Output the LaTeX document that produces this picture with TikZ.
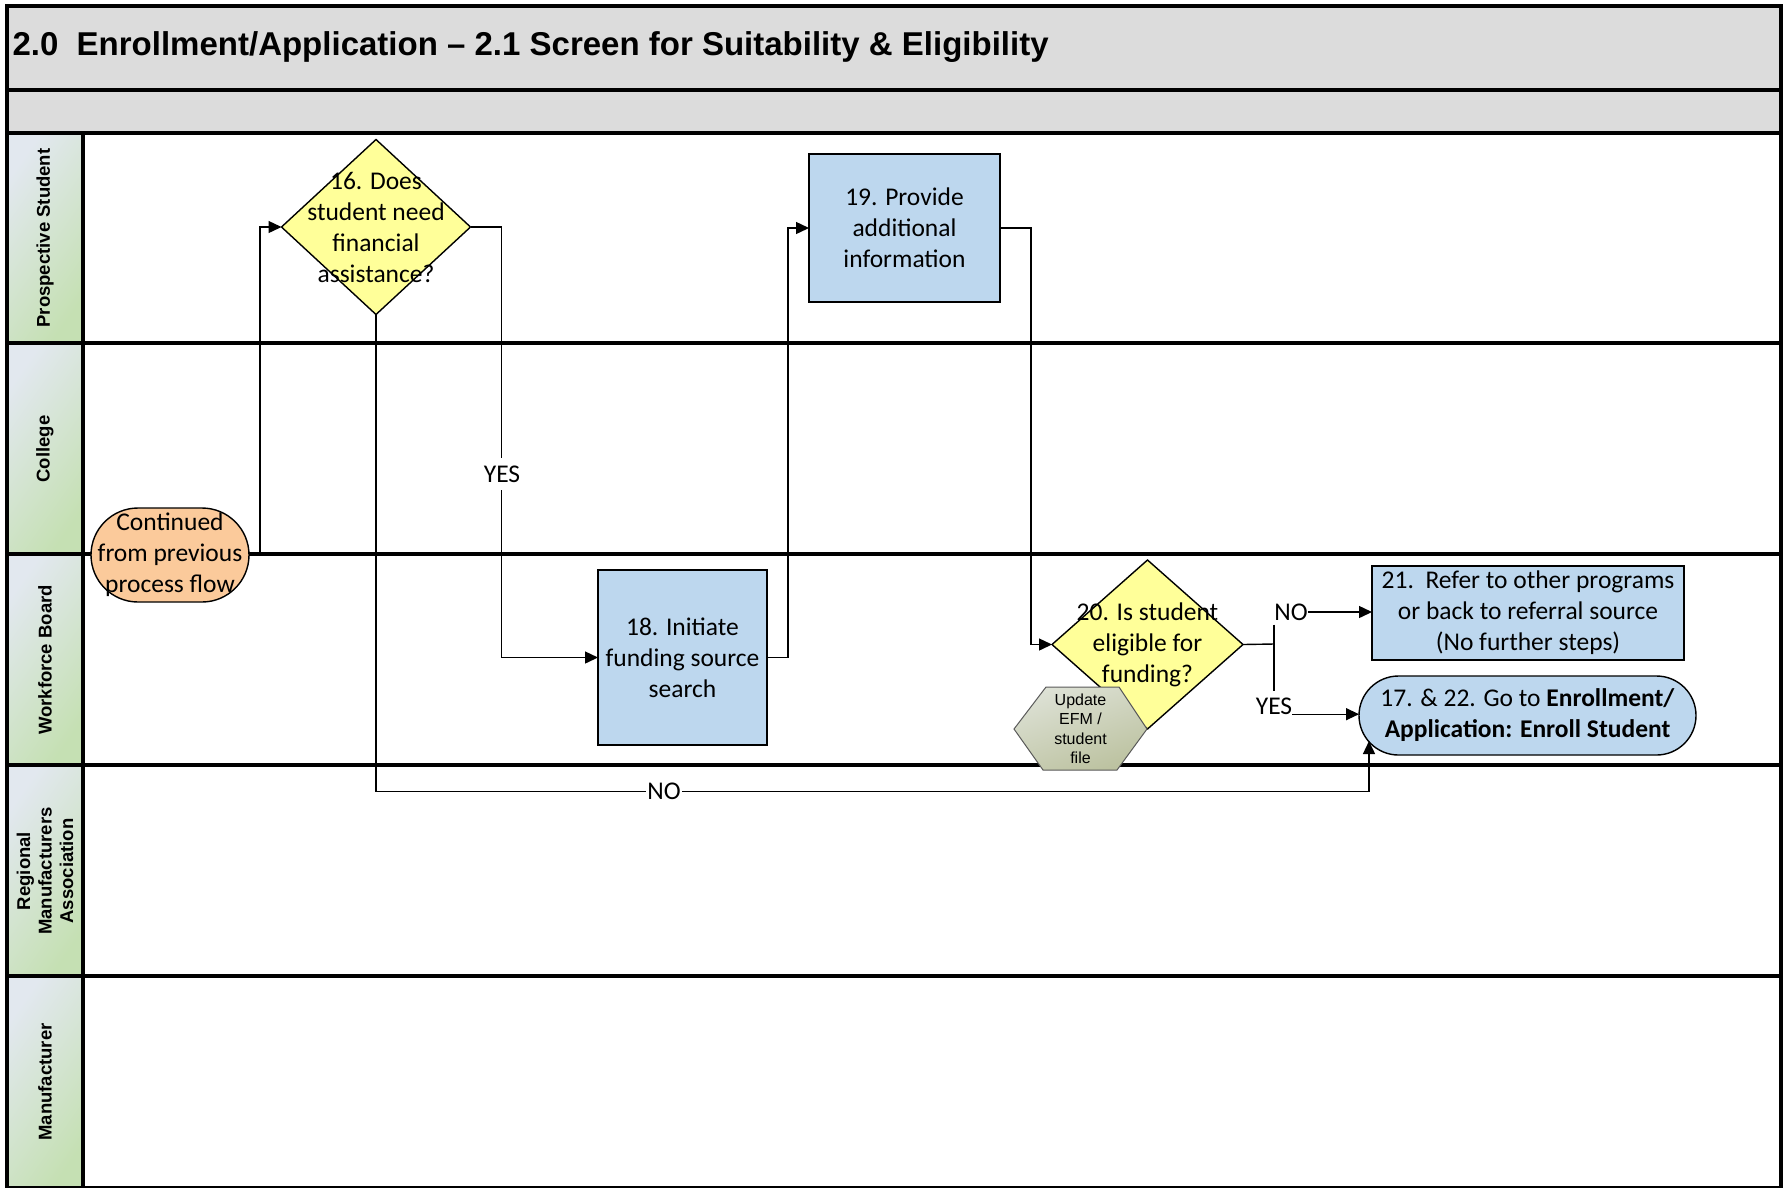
\documentclass[tikz,border=0pt]{standalone}
\usepackage{fontspec}
\setmainfont{Carlito}
\newfontfamily\arial{Liberation Sans}
\usetikzlibrary{arrows.meta,shapes.geometric,calc}
\definecolor{diaY}{HTML}{FFFF99}
\definecolor{boxB}{HTML}{BDD7EE}
\definecolor{ovalO}{HTML}{FBCA9B}
\definecolor{laneG}{HTML}{C5E0B3}
\definecolor{laneW}{HTML}{E2E8EF}
\definecolor{bandG}{HTML}{DCDCDC}
\definecolor{hexA}{HTML}{DDE1D5}
\definecolor{hexB}{HTML}{BCC2A0}
\begin{document}
\begin{tikzpicture}[x=1pt,y=-1pt,
  lanel/.style={line width=4.5pt},
  seg/.style={line width=1.4pt},
  conn/.style={line width=1.4pt,-{Triangle[length=13pt,width=12pt]}},
  bodyt/.style={font=\fontsize{25.5}{31}\selectfont,align=center},
  lanetxt/.style={rotate=90,font=\arial\bfseries\fontsize{18.5}{21.5}\selectfont,align=center},
  lanesh/.style={top color=laneW,middle color=laneG!85!laneW,bottom color=laneG,shading angle=55},
  diam/.style={diamond,draw,line width=1.4pt,fill=diaY,inner sep=0pt,outer sep=0pt},
  procbox/.style={rectangle,draw,line width=1.4pt,fill=boxB,inner sep=0pt,outer sep=0pt,bodyt},
  lbl/.style={bodyt,fill=white,inner xsep=1pt,inner ysep=8pt}]
\useasboundingbox (0,0) rectangle (1785,1187);
% bands
\fill[bandG] (7,6) rectangle (1781,90);
\fill[bandG] (7,90) rectangle (1781,133);
\node[anchor=west,font=\arial\bfseries\fontsize{33}{40}\selectfont] (title) at (9,47)
  {2.0~~Enrollment/Application – 2.1 Screen for Suitability \& Eligibility};
% lane headers
\foreach \t/\b in {133/343,343/554,554/765,765/976,976/1190}
  \shade[lanesh] (9,\t) rectangle (82,\b);
\node[lanetxt] (l1) at (45,238) {Prospective Student};
\node[lanetxt] (l2) at (45,449) {College};
\node[lanetxt] (l3) at (45,660) {Workforce Board};
\node[lanetxt] (l4) at (45,871) {Regional\\Manufacturers\\Association};
\node[lanetxt] (l5) at (45,1082) {Manufacturer};
% lane lines
\foreach \yy in {90,133,343,554,765,976}
  \draw[lanel] (7,\yy) -- (1781,\yy);
\draw[lanel] (83,133) -- (83,1190);
\draw[lanel] (7,6) rectangle (1781,1188.5);
% shapes
\node[draw,fill=ovalO,line width=1.4pt,rounded corners=47pt,minimum width=158pt,minimum height=94pt,inner sep=0pt,outer sep=0pt,bodyt]
  (cont) at (170,555) {Continued\\from previous\\process flow};
\node[diam,minimum width=189pt,minimum height=175pt] (d16) at (376,227) {};
\node[bodyt] (d16t) at (d16) {16. Does\\student need\\financial\\assistance?};
\node[procbox,minimum width=169pt,minimum height=175pt] (b18) at (682.5,657.5) {18. Initiate\\funding source\\search};
\node[procbox,minimum width=191pt,minimum height=148pt] (b19) at (904.5,228) {19. Provide\\additional\\information};
\node[diam,minimum width=191pt,minimum height=169pt] (d20) at (1147.5,644.5) {};
\node[bodyt] (d20t) at (d20) {20. Is student\\eligible for\\funding?};
\node[procbox,minimum width=312pt,minimum height=94pt] (b21) at (1528,613) {21.\ \ Refer to other programs\\or back to referral source\\(No further steps)};
\node[draw,fill=boxB,line width=1.4pt,rounded corners=39.5pt,minimum width=337pt,minimum height=79pt,inner sep=0pt,outer sep=0pt,bodyt]
  (term) at (1527.5,715.5) {17. \& 22. Go to \textbf{Enrollment/}\\\textbf{Application: Enroll Student}};
% hexagon
\shade[top color=hexA,bottom color=hexB,shading angle=20,draw=black!65,line width=1pt]
  (1014,729) -- (1046,687) -- (1119,687) -- (1147,729) -- (1117,770) -- (1043,770) -- cycle;
\node[font=\arial\fontsize{16}{19.5}\selectfont,align=center] (hex) at (1080.5,729) {Update\\EFM /\\student\\file};
% connectors
\draw[conn] (cont.east) -- ++(11,0) |- (d16.west);
\draw[conn] (d16.east) -- ++(31,0) |- (b18.west);
\node[lbl] (yes1) at (502,474) {YES};
\draw[conn] (b18.east) -- ++(21,0) |- (b19.west);
\draw[conn] (b19.east) -- ++(31,0) |- (d20.west);
\coordinate (noend) at (1369,741);
\draw[conn] (d16.south) -- ++(0,477) -| (noend);
\node[lbl,inner ysep=4pt] (no1) at (664,791) {NO};
\coordinate (j) at (1274,644);
\draw[seg] (d20.east) -- (j);
\node[bodyt,inner sep=0pt] (no2) at (1291,612) {NO};
\node[bodyt,inner sep=0pt] (yes2) at (1274,706) {YES};
\draw[seg] ($(j |- no2.south)+(0,4)$) -- ($(j |- yes2.north)+(0,-6)$);
\draw[conn] (no2.east) -- (b21.west |- no2.east);
\draw[conn] (yes2.base east) -- (term.west |- yes2.base east);
\end{tikzpicture}
\end{document}
